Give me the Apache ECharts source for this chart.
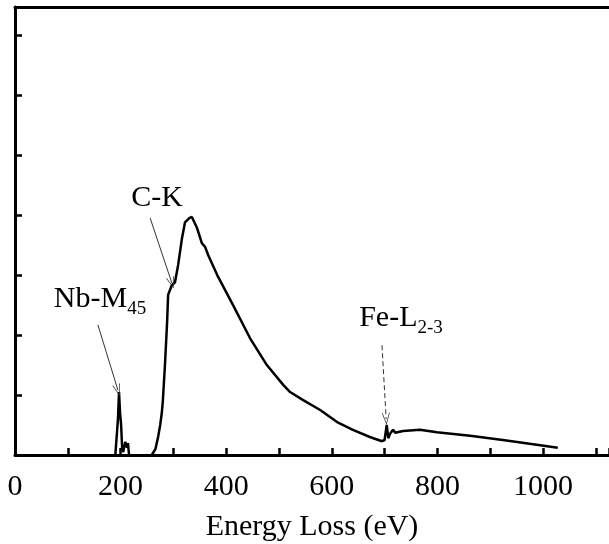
<!DOCTYPE html>
<html>
<head>
<meta charset="utf-8">
<script src="https://cdn.jsdelivr.net/npm/echarts@6/dist/echarts.min.js"></script>
<style>
  html, body { margin: 0; padding: 0; background: #fff; }
  #main { width: 609px; height: 544px; }
</style>
</head>
<body>
<div id="main"></div>
<script>
// Nb-M45 spike
const nbEnergy = [190, 193, 195, 197, 199, 201, 203, 205, 207, 209, 212, 214, 216];
const nbCounts = [0, 0, 0.6, 1.05, 0.7, 0.5, 0.1, 0.05, 0.15, 0.22, 0.12, 0.2, 0];

// C-K edge onwards
const energy = [259, 266, 271, 275, 278, 280, 284, 288, 290, 297, 303, 309, 316, 322, 330, 335,
  345, 354, 360, 366, 383, 413, 445, 477, 508, 521, 545, 578, 610, 640, 672, 695,
  700, 704, 707, 710, 716, 720, 735, 767, 799, 862, 924, 988, 1028];
const counts = [0, 0.1, 0.3, 0.5, 0.7, 0.9, 1.5, 2.2, 2.67, 2.83, 2.88, 3.17, 3.6, 3.88, 3.95, 3.97,
  3.78, 3.53, 3.47, 3.33, 3.0, 2.5, 1.95, 1.5, 1.17, 1.05, 0.92, 0.75, 0.55, 0.42, 0.3, 0.23,
  0.25, 0.5, 0.28, 0.35, 0.42, 0.37, 0.4, 0.42, 0.38, 0.32, 0.25, 0.17, 0.12];

// x tick labels shown every 200 eV
const xLabels = ['0', '200', '400', '600', '800', '1000'];

// annotation labels and arrows (data coordinates)
const labels = [
  { text: '{m|C-K}', at: [269, 4.28] },
  { text: '{m|Nb-M}{s|45}', at: [161, 2.6] },
  { text: '{m|Fe-L}{s|2-3}', at: [731, 2.28] }
];
const arrows = [
  { from: [256, 3.95], to: [297, 2.87], dashed: false },
  { from: [157, 2.17], to: [195, 1.08], dashed: false },
  { from: [695, 1.83], to: [703, 0.6], dashed: true }
];

const font = 'Liberation Serif';
const openHead = 'path://M5,0 L10,14 L9,14 L5,2.5 L1,14 L0,14 Z';
const chart = echarts.init(document.getElementById('main'));

const option = {
  backgroundColor: '#fff',
  animation: false,
  grid: { left: 15, top: 7, bottom: 89, right: 0, outerBoundsMode: 'none' },
  xAxis: [
    {
      type: 'value',
      min: 0, max: 1125, interval: 100,
      name: 'Energy Loss (eV)',
      nameLocation: 'middle',
      nameGap: 57,
      nameTextStyle: { fontFamily: font, fontSize: 30, color: '#000' },
      axisLine: { lineStyle: { color: '#000', width: 3 } },
      axisTick: { inside: true, length: 7, lineStyle: { color: '#000', width: 2.5 } },
      axisLabel: {
        formatter: (v) => (xLabels.includes(String(v)) ? String(v) : ''),
        fontFamily: font, fontSize: 30, color: '#000', margin: 17
      },
      splitLine: { show: false }
    },
    {
      type: 'value',
      position: 'top',
      min: 0, max: 1125,
      axisLine: { show: true, lineStyle: { color: '#000', width: 3 } },
      axisTick: { show: false },
      axisLabel: { show: false },
      splitLine: { show: false }
    }
  ],
  yAxis: {
    type: 'value',
    min: 0, max: 7.47, interval: 1,
    axisLine: { show: true, lineStyle: { color: '#000', width: 3 } },
    axisTick: { show: true, inside: true, length: 7, lineStyle: { color: '#000', width: 2.5 } },
    axisLabel: { show: false },
    splitLine: { show: false }
  },
  series: [
    {
      type: 'line',
      data: nbEnergy.map((e, i) => [e, nbCounts[i]]),
      symbol: 'none',
      lineStyle: { color: '#000', width: 2.5 }
    },
    {
      type: 'line',
      data: energy.map((e, i) => [e, counts[i]]),
      symbol: 'none',
      lineStyle: { color: '#000', width: 2.5 },
      markLine: {
        silent: true,
        symbol: ['none', openHead],
        symbolSize: [8, 12],
        label: { show: false },
        data: arrows.map((a) => [
          { coord: a.from, lineStyle: { color: '#333', width: 1, type: a.dashed ? [5, 3] : 'solid' } },
          { coord: a.to }
        ])
      },
      markPoint: {
        silent: true,
        symbol: 'circle',
        symbolSize: 0,
        data: labels.map((l) => ({
          coord: l.at,
          label: {
            show: true,
            position: 'inside',
            formatter: l.text,
            rich: {
              m: { fontFamily: font, fontSize: 30, color: '#000' },
              s: { fontFamily: font, fontSize: 19, color: '#000', verticalAlign: 'top', padding: [19, 0, 0, 0] }
            }
          }
        }))
      }
    }
  ]
};

chart.setOption(option);
</script>
</body>
</html>
